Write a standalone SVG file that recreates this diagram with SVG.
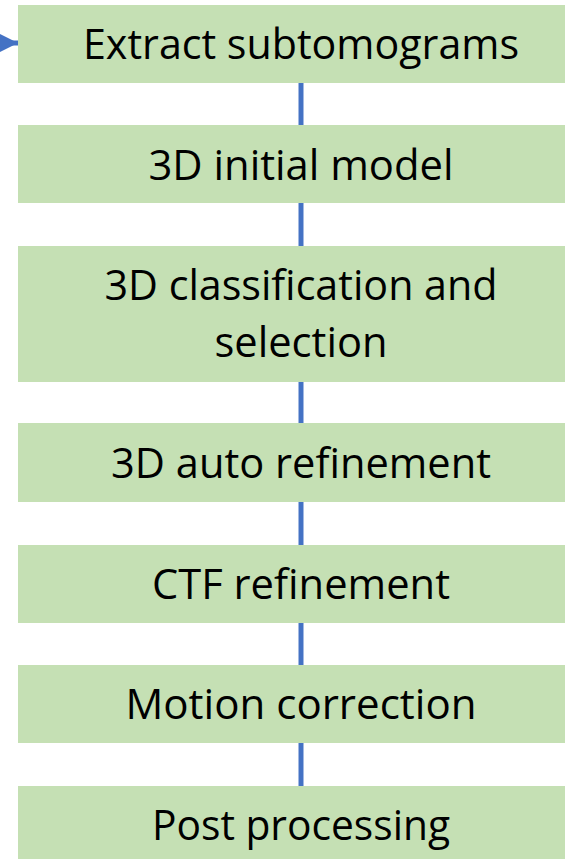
<svg xmlns="http://www.w3.org/2000/svg" width="565" height="859" viewBox="0 0 565 859">
<style>
.box{fill:#C5E0B4;}
.lbl{font-family:"Open Sans","Noto Sans",sans-serif;font-size:42px;fill:#000;text-anchor:middle;}
.conn{stroke:#4472C4;stroke-width:5;fill:none;}
</style>
<defs>
<marker id="ah" viewBox="0 0 10 10" refX="10" refY="5" markerWidth="4" markerHeight="4" markerUnits="strokeWidth" orient="auto">
<path d="M0,0 L10,5 L0,10 z" fill="#4472C4"/>
</marker>
</defs>
<rect width="565" height="859" fill="#fff"/>
<g id="connectors">
<line class="conn" x1="-20" y1="43" x2="18" y2="43" marker-end="url(#ah)" stroke-width="3"/>
<line class="conn" x1="301" y1="83" x2="301" y2="125"/>
<line class="conn" x1="301" y1="203" x2="301" y2="246"/>
<line class="conn" x1="301" y1="382" x2="301" y2="423"/>
<line class="conn" x1="301" y1="502" x2="301" y2="545"/>
<line class="conn" x1="301" y1="623" x2="301" y2="665"/>
<line class="conn" x1="301" y1="743" x2="301" y2="786"/>
</g>
<g id="n1"><rect class="box" x="18" y="5" width="566" height="78"/><text class="lbl" x="301" y="59" textLength="436" lengthAdjust="spacingAndGlyphs">Extract subtomograms</text></g>
<g id="n2"><rect class="box" x="18" y="125" width="566" height="78"/><text class="lbl" x="301" y="180" textLength="305" lengthAdjust="spacingAndGlyphs">3D initial model</text></g>
<g id="n3"><rect class="box" x="18" y="246" width="566" height="136"/><text class="lbl" x="301" y="300" textLength="393" lengthAdjust="spacingAndGlyphs">3D classification and</text><text class="lbl" x="301" y="357" textLength="173" lengthAdjust="spacingAndGlyphs">selection</text></g>
<g id="n4"><rect class="box" x="18" y="423" width="566" height="79"/><text class="lbl" x="301" y="478" textLength="380" lengthAdjust="spacingAndGlyphs">3D auto refinement</text></g>
<g id="n5"><rect class="box" x="18" y="545" width="566" height="78"/><text class="lbl" x="301" y="599" textLength="298" lengthAdjust="spacingAndGlyphs">CTF refinement</text></g>
<g id="n6"><rect class="box" x="18" y="665" width="566" height="78"/><text class="lbl" x="301" y="719" textLength="351" lengthAdjust="spacingAndGlyphs">Motion correction</text></g>
<g id="n7"><rect class="box" x="18" y="786" width="566" height="80"/><text class="lbl" x="301" y="840" textLength="298" lengthAdjust="spacingAndGlyphs">Post processing</text></g>
</svg>
